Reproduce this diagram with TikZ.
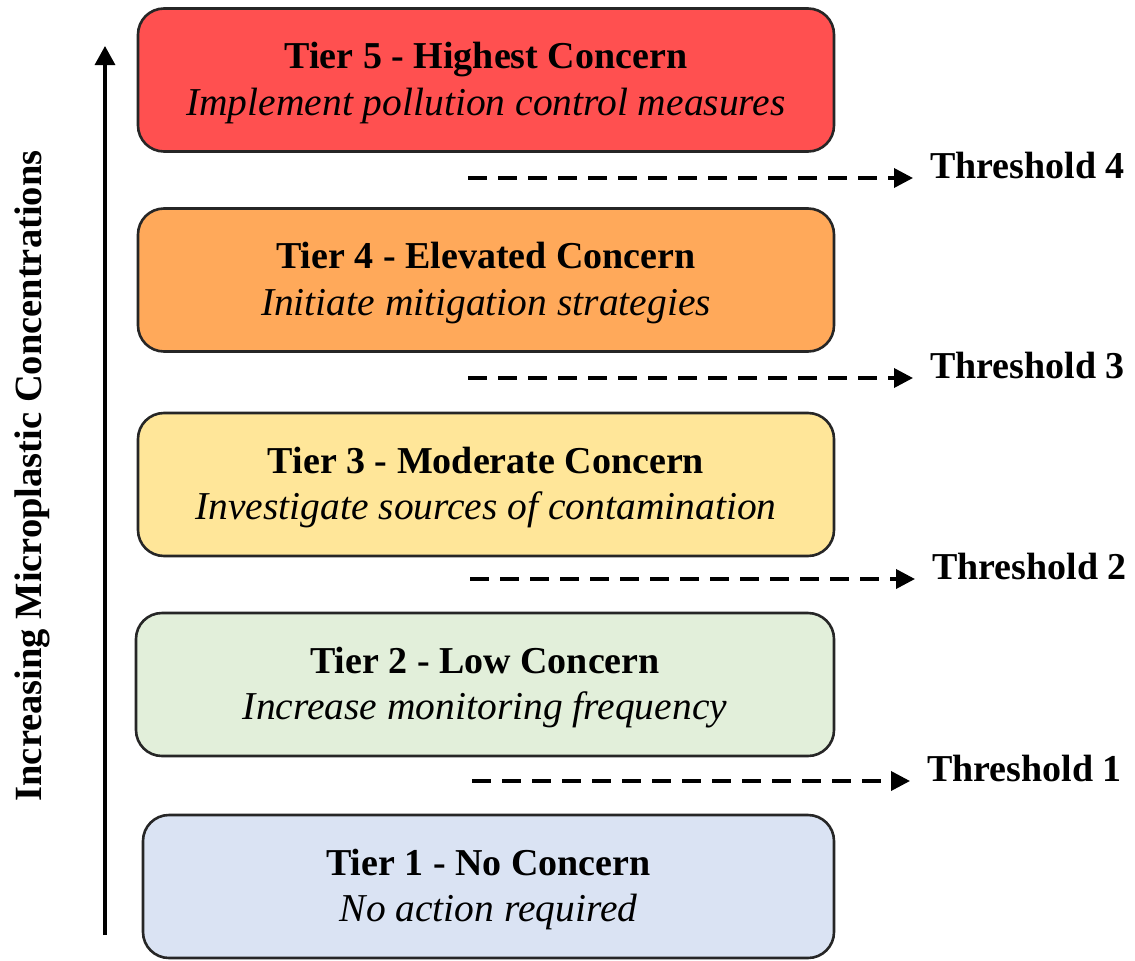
\documentclass[tikz,border=0pt]{standalone}
\usepackage{fontspec}
\setmainfont{Liberation Serif}
\usetikzlibrary{arrows.meta}
\definecolor{c5}{HTML}{FF5050}
\definecolor{c4}{HTML}{FFA95A}
\definecolor{c3}{HTML}{FFE699}
\definecolor{c2}{HTML}{E2EFDA}
\definecolor{c1}{HTML}{DAE3F3}
\definecolor{edge}{HTML}{262626}
\newcommand{\ital}[1]{{\fontsize{39.5}{46}\selectfont\itshape #1}}
\tikzset{
  tierbox/.style={draw=edge, line width=2.6pt, rounded corners=26pt, minimum width=696pt, minimum height=143pt, inner sep=0pt},
  tiertext/.style={align=center, inner sep=0pt, font=\fontsize{38}{46.5}\selectfont},
  thlabel/.style={anchor=base west, inner sep=0pt, font=\fontsize{38}{44}\selectfont\bfseries},
  dasharrow/.style={line width=3.6pt, dash pattern=on 19pt off 11pt, -{Triangle[length=19pt,width=19pt]}, shorten >=17pt},
}
\begin{document}
\begin{tikzpicture}[x=1pt,y=-1pt]
\useasboundingbox (0,0) rectangle (1135,961);
\node[tierbox, fill=c5] (t5) at (486,80) {};
\node[tierbox, fill=c4] (t4) at (486,280) {};
\node[tierbox, fill=c3] (t3) at (486,484.5) {};
\node[tierbox, fill=c2, minimum width=698pt] (t2) at (485,684.5) {};
\node[tierbox, fill=c1, minimum width=691pt] (t1) at (488.5,886.5) {};
\node[tiertext] (x5) at ([yshift=-3pt]t5.center) {\textbf{Tier 5 - Highest Concern}\\\ital{Implement pollution control measures}};
\node[tiertext] (x4) at ([yshift=-3pt]t4.center) {\textbf{Tier 4 - Elevated Concern}\\\ital{Initiate mitigation strategies}};
\node[tiertext] (x3) at ([yshift=-3pt]t3.center) {\textbf{Tier 3 - Moderate Concern}\\\ital{Investigate sources of contamination}};
\node[tiertext] (x2) at ([yshift=-3pt]t2.center) {\textbf{Tier 2 - Low Concern}\\\ital{Increase monitoring frequency}};
\node[tiertext] (x1) at ([yshift=-3pt]t1.center) {\textbf{Tier 1 - No Concern}\\\ital{No action required}};

\coordinate (s4) at (468,178);
\coordinate (s3) at (468,378);
\coordinate (s2) at (470,579);
\coordinate (s1) at (472,781);
\node[thlabel] (h4) at (930,178) {Threshold 4};
\node[thlabel] (h3) at (930,378) {Threshold 3};
\node[thlabel] (h2) at (932,579) {Threshold 2};
\node[thlabel] (h1) at (927,781) {Threshold 1};
\draw[dasharrow] (s4) -- (h4.base west);
\draw[dasharrow] (s3) -- (h3.base west);
\draw[dasharrow] (s2) -- (h2.base west);
\draw[dasharrow] (s1) -- (h1.base west);

\coordinate (ab) at (105,935);
\coordinate (at) at (105,46);
\draw[line width=3.2pt, -{Triangle[length=19pt,width=20pt]}] (ab) -- (at);
\node[rotate=90, font=\fontsize{38.5}{44}\selectfont\bfseries] (lab) at (32,476) {Increasing Microplastic Concentrations};
\end{tikzpicture}
\end{document}
